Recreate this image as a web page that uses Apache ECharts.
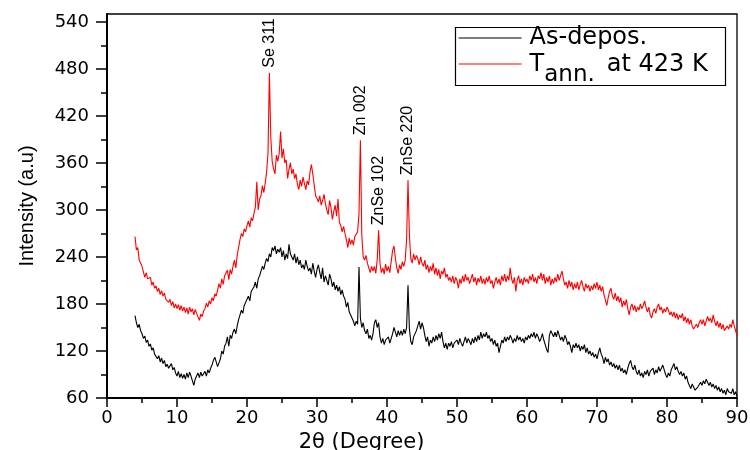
<!DOCTYPE html>
<html>
<head>
<meta charset="utf-8">
<script src="https://cdn.jsdelivr.net/npm/echarts@6/dist/echarts.min.js"></script>
<style>
  html, body { margin: 0; padding: 0; background: #fff; }
  #chart { width: 750px; height: 450px; }
</style>
</head>
<body>
<div id="chart"></div>
<script>
// XRD scan: 2-theta from 4 to 90 degrees in 0.2 degree steps
const scanStart = 4.0;
const scanStep = 0.2;

const seriesNames = ['As-depos.', 'Tann. at 423 K'];

// As-deposited film
const asDeposited = [
  165, 156, 150, 154, 146,  142, 136, 139, 131, 134,  126, 129, 121, 124, 116,
  118, 110, 114, 106, 111,  104, 108, 100, 103, 98,   101, 104, 96, 99, 92,
  88, 94, 86, 91, 85,       90, 84, 92, 86, 93,       88, 90, 76, 84, 88,
  92, 86, 93, 88, 90,       94, 88, 96, 92, 98,       102, 108, 112, 106, 100,
  98, 110, 120, 116, 126,   130, 138, 126, 140, 136,  144, 148, 142, 152, 160,
  166, 172, 168, 178, 182,  186, 190, 184, 196, 194,  202, 208, 200, 212, 216,
  222, 228, 224, 232, 238,  234, 244, 240, 252, 248,  254, 244, 250, 246, 252,
  240, 248, 236, 244, 238,  256, 244, 240, 236, 244,  232, 240, 230, 236, 226,
  230, 224, 236, 228, 222,  226, 218, 232, 222, 214,  224, 230, 220, 212, 226,
  208, 216, 210, 204, 218,  212, 202, 208, 198, 204,  196, 202, 192, 198, 190,
  186, 176, 182, 170, 166,  162, 158, 152, 158, 154,  227, 162, 150, 156, 146,
  142, 148, 136, 140, 134,  142, 156, 160, 150, 156,  138, 130, 136, 128, 134,
  132, 138, 130, 136, 142,  150, 144, 138, 146, 140,  146, 140, 148, 142, 150,
  204, 148, 132, 128, 138,  136, 146, 152, 158, 148,  156, 150, 140, 132, 138,
  126, 134, 130, 138, 132,  140, 134, 142, 136, 144,  132, 124, 130, 122, 130,
  126, 132, 124, 130, 128,  134, 128, 136, 130, 126,  132, 138, 130, 136, 134,
  128, 136, 130, 138, 132,  140, 134, 144, 136, 142,  138, 144, 136, 140, 132,
  136, 128, 134, 126, 130,  118, 126, 134, 130, 138,  132, 138, 134, 140, 136,
  130, 136, 132, 140, 134,  138, 132, 136, 130, 138,  134, 140, 136, 142, 138,
  144, 136, 142, 138, 132,  136, 142, 134, 128, 122,  118, 140, 146, 142, 138,
  144, 138, 146, 140, 134,  138, 132, 140, 136, 128,  132, 126, 118, 128, 124,
  130, 124, 128, 120, 126,  122, 128, 118, 124, 116,  120, 114, 118, 112, 116,
  110, 118, 124, 116, 112,  104, 112, 106, 110, 102,  106, 100, 104, 98, 102,
  96, 102, 94, 98, 92,      96, 90, 98, 104, 108,     100, 96, 102, 94, 90,
  96, 88, 92, 86, 94,       90, 96, 88, 94, 92,       98, 90, 96, 92, 100,
  94, 98, 102, 96, 90,      86, 92, 88, 96, 100,      104, 96, 100, 94, 90,
  94, 88, 92, 84, 88,       80, 76, 72, 78, 74,       70, 68, 74, 72, 80,
  76, 82, 78, 84, 80,       76, 80, 74, 78, 72,       76, 70, 74, 68, 72,
  66, 70, 64, 72, 68,       70, 66, 72, 64, 68,
  62
];

// Film annealed at 423 K
const annealed423 = [
  266, 249, 252, 236, 238,  228, 230, 214, 220, 212,  210, 214, 204, 208, 200,
  203, 196, 200, 192, 197,  190, 194, 186, 188, 182,  186, 178, 183, 175, 180,
  174, 179, 172, 178, 171,  176, 169, 175, 167, 176,  170, 174, 166, 173, 168,
  170, 159, 167, 164, 171,  174, 181, 176, 184, 180,  188, 184, 193, 190, 198,
  206, 200, 212, 205, 216,  214, 223, 211, 224, 218,  228, 236, 226, 242, 252,
  262, 270, 266, 276, 272,  280, 286, 278, 290, 286,  296, 304, 336, 300, 314,
  318, 331, 322, 334, 348,  372, 475, 392, 362, 352,  346, 370, 362, 372, 400,
  366, 378, 360, 364, 340,  352, 360, 346, 352, 340,  346, 333, 326, 338, 330,
  342, 334, 326, 337, 332,  348, 358, 346, 332, 318,  315, 310, 318, 306, 312,
  320, 308, 300, 294, 312,  303, 288, 298, 306, 292,  314, 284, 280, 272, 279,
  270, 262, 252, 264, 256,  262, 255, 266, 264, 272,  295, 389, 268, 240, 236,
  242, 232, 226, 220, 228,  222, 228, 219, 236, 274,  232, 220, 226, 218, 231,
  222, 228, 220, 234, 248,  254, 238, 226, 219, 230,  224, 234, 228, 236, 262,
  338, 268, 238, 232, 244,  236, 242, 238, 230, 240,  232, 228, 236, 224, 230,
  220, 228, 222, 232, 218,  226, 216, 224, 212, 222,  218, 226, 214, 218, 210,
  214, 208, 216, 206, 214,  210, 200, 212, 206, 216,  208, 218, 210, 214, 206,
  212, 218, 208, 214, 204,  213, 208, 216, 206, 212,  205, 214, 208, 216, 206,
  210, 200, 208, 214, 206,  212, 204, 216, 209, 218,  208, 216, 210, 226, 212,
  206, 214, 196, 210, 216,  206, 212, 204, 214, 208,  212, 206, 216, 210, 218,
  208, 214, 206, 216, 212,  220, 210, 218, 206, 214,  208, 216, 204, 212, 206,
  214, 208, 218, 210, 216,  222, 212, 204, 208, 200,  210, 202, 208, 198, 206,
  200, 208, 198, 205, 210,  202, 196, 206, 200, 204,  196, 203, 198, 206, 200,
  208, 198, 204, 196, 202,  192, 185, 178, 188, 196,  200, 190, 186, 194, 184,
  190, 182, 188, 176, 184,  178, 186, 174, 166, 176,  180, 172, 178, 170, 176,
  172, 180, 174, 178, 184,  176, 170, 176, 166, 162,  170, 174, 168, 176, 180,
  172, 176, 168, 174, 170,  176, 172, 166, 170, 164,  170, 162, 168, 160, 166,
  162, 168, 158, 164, 156,  162, 154, 160, 152, 148,  146, 154, 150, 156, 160,
  154, 160, 152, 158, 164,  158, 162, 156, 166, 158,  152, 158, 150, 156, 148,
  154, 146, 144, 152, 148,  154, 150, 160, 152, 146,
  140
];

// Reflections marked on the annealed pattern
const peakLabels = ['Se 311', 'Zn 002', 'ZnSe 102', 'ZnSe 220'];
const peakAngles = [23.2, 36.2, 38.8, 43.0];

// Axis ticks
const yMajorTicks = [60, 120, 180, 240, 300, 360, 420, 480, 540];
const yMinorTicks = [90, 150, 210, 270, 330, 390, 450, 510];

const toPairs = (values) =>
  values.map((v, i) => [Math.round((scanStart + i * scanStep) * 10) / 10, v]);
const valueAt = (values, angle) => values[Math.round((angle - scanStart) / scanStep)];

const FONT = 'DejaVu Sans';
const NARROW = 'Liberation Sans';

const chart = echarts.init(document.getElementById('chart'), null, { renderer: 'canvas' });

// legend entries: line sample only, no marker
const legendBase = {
  left: 458, orient: 'vertical', padding: 0,
  itemWidth: 63, itemHeight: 14, selectedMode: false,
  itemStyle: { opacity: 0 },
  lineStyle: { width: 1.1 }
};

chart.setOption({
  animation: false,
  backgroundColor: '#fff',
  grid: {
    left: 107, right: 13, top: 14, bottom: 52,
    show: true, borderColor: '#000', borderWidth: 1.3, backgroundColor: 'transparent',
    outerBoundsMode: 'none'
  },
  xAxis: {
    type: 'value', min: 0, max: 90, interval: 10,
    name: '2\u03B8 (Degree)', nameLocation: 'middle', nameGap: 28,
    nameTextStyle: { fontFamily: FONT, fontSize: 21, color: '#000', padding: [0, 121, 0, 0] },
    axisLine: { show: true, lineStyle: { color: '#000', width: 2 } },
    axisTick: { show: true, length: 9, lineStyle: { color: '#000', width: 1.5 } },
    minorTick: { show: true, splitNumber: 2, length: 5, lineStyle: { color: '#000', width: 1.5 } },
    axisLabel: { margin: 11, fontFamily: FONT, fontSize: 18, color: '#000' },
    splitLine: { show: false }, minorSplitLine: { show: false }
  },
  yAxis: [
    {
      type: 'value', min: 60, max: 550, position: 'left',
      name: 'Intensity (a.u)', nameLocation: 'middle', nameGap: 70,
      nameTextStyle: { fontFamily: NARROW, fontSize: 20, color: '#000' },
      axisLine: { show: true, lineStyle: { color: '#000', width: 2 } },
      axisTick: { show: true, customValues: yMajorTicks, length: 11, lineStyle: { color: '#000', width: 1.5 } },
      axisLabel: { customValues: yMajorTicks, margin: 18, fontFamily: FONT, fontSize: 18, color: '#000' },
      splitLine: { show: false }
    },
    {
      type: 'value', min: 60, max: 550, position: 'left', offset: 0,
      axisLine: { show: false },
      axisTick: { show: true, customValues: yMinorTicks, length: 6, lineStyle: { color: '#000', width: 1.5 } },
      axisLabel: { show: false },
      splitLine: { show: false }
    }
  ],
  legend: [
    Object.assign({}, legendBase, {
      data: [seriesNames[0]], top: 26,
      formatter: () => '{t|As-depos.}',
      textStyle: { rich: { t: { fontFamily: FONT, fontSize: 24, color: '#000', padding: [0, 0, 0, 3] } } }
    }),
    Object.assign({}, legendBase, {
      data: [seriesNames[1]], top: 38,
      formatter: () => '{c|T}{s|ann.}{t|at 423 K}',
      textStyle: {
        rich: {
          c: { fontFamily: FONT, fontSize: 24, color: '#000', lineHeight: 24, padding: [14, 0, 12, 3] },
          s: { fontFamily: FONT, fontSize: 23, color: '#000', lineHeight: 21, padding: [26, 0, 3, 0] },
          t: { fontFamily: FONT, fontSize: 24, color: '#000', lineHeight: 24, padding: [14, 0, 12, 12] }
        }
      }
    })
  ],
  graphic: [
    {
      type: 'rect', left: 453, top: 25, silent: true,
      shape: { width: 270, height: 58 },
      style: { fill: 'none', stroke: '#000', lineWidth: 1.2 }
    }
  ],
  series: [
    {
      name: seriesNames[0], type: 'line', data: toPairs(asDeposited),
      symbol: 'none', showSymbol: false, color: '#000',
      lineStyle: { color: '#000', width: 1.1 }, z: 2
    },
    {
      name: seriesNames[1], type: 'line', data: toPairs(annealed423),
      symbol: 'none', showSymbol: false, color: '#ff0000',
      lineStyle: { color: '#ff0000', width: 1.1 }, z: 3,
      markPoint: {
        symbol: 'circle', symbolSize: 0, silent: true,
        label: {
          show: true, position: 'top', distance: 5, rotate: 90,
          align: 'left', verticalAlign: 'middle',
          formatter: '{b}', fontFamily: NARROW, fontSize: 16, color: '#000'
        },
        data: peakLabels.map((name, k) => ({
          name: name,
          coord: [peakAngles[k], valueAt(annealed423, peakAngles[k])]
        }))
      }
    }
  ]
});
</script>
</body>
</html>
